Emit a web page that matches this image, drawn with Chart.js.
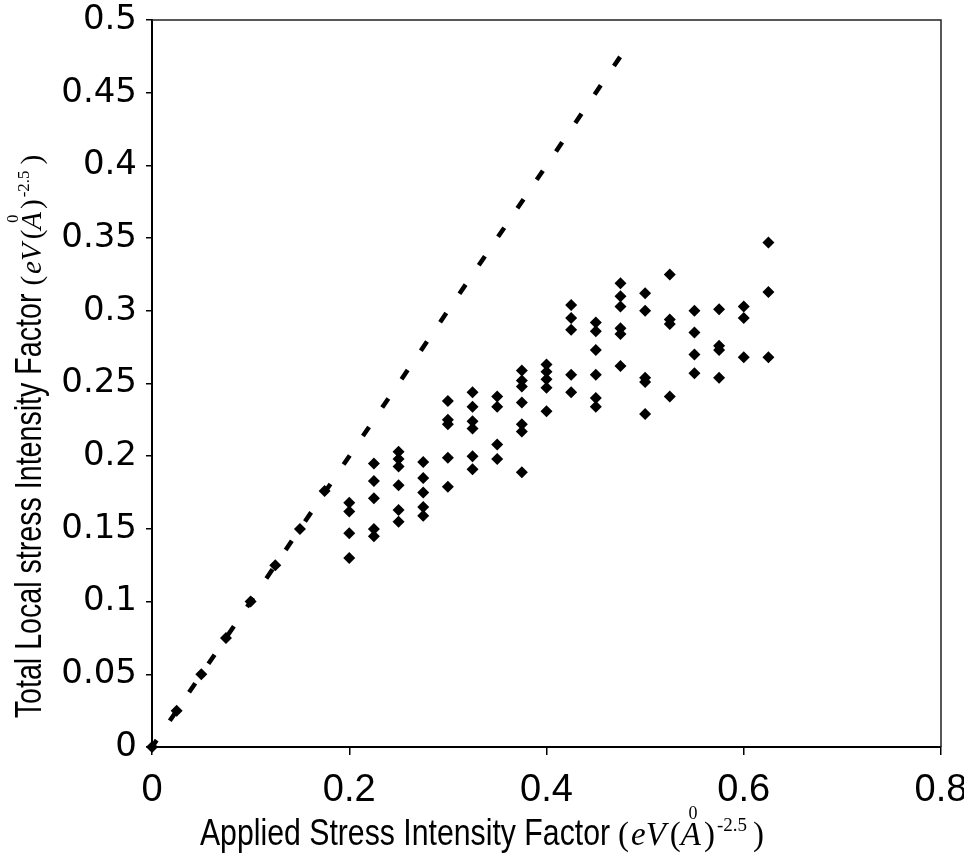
<!DOCTYPE html>
<html>
<head>
<meta charset="utf-8">
<script src="https://cdn.jsdelivr.net/npm/chart.js@4.4.1/dist/chart.umd.min.js"></script>
<style>
  html, body { margin: 0; padding: 0; background: #fff; }
  #wrap { width: 964px; height: 857px; }
</style>
</head>
<body>
<div id="wrap"><canvas id="stressChart"></canvas></div>
<script>
// low loads: local K still follows the applied K
const onLineX = [0, 0.025, 0.05, 0.075, 0.1, 0.125, 0.15, 0.175];
const onLineY = [0, 0.025, 0.05, 0.075, 0.1, 0.125, 0.15, 0.176];

// applied K values where the local K scatters
const appliedX = [0.2, 0.225, 0.25, 0.275, 0.3, 0.325, 0.35, 0.375, 0.4,
                  0.425, 0.45, 0.475, 0.5, 0.525, 0.55, 0.575, 0.6, 0.625];

// total local K samples, one list per applied K
const localY = [
  [0.168, 0.162, 0.147, 0.130],
  [0.195, 0.183, 0.171, 0.150, 0.145],
  [0.203, 0.198, 0.193, 0.180, 0.163, 0.155],
  [0.196, 0.185, 0.175, 0.165, 0.159],
  [0.238, 0.225, 0.222, 0.199, 0.179],
  [0.244, 0.234, 0.224, 0.219, 0.200, 0.191],
  [0.241, 0.234, 0.208, 0.198],
  [0.259, 0.252, 0.248, 0.237, 0.222, 0.217, 0.189],
  [0.263, 0.258, 0.253, 0.247, 0.231],
  [0.304, 0.295, 0.287, 0.256, 0.244],
  [0.292, 0.286, 0.273, 0.256, 0.240, 0.234],
  [0.319, 0.310, 0.303, 0.288, 0.284, 0.262],
  [0.312, 0.300, 0.254, 0.251, 0.229],
  [0.325, 0.294, 0.291, 0.241],
  [0.300, 0.285, 0.270, 0.257],
  [0.301, 0.276, 0.273, 0.254],
  [0.303, 0.295, 0.268],
  [0.347, 0.313, 0.268]
];

// dashed 1:1 line
const refX = [0, 0.48];
const refY = [0, 0.48];

const xTicks = [0, 0.2, 0.4, 0.6, 0.8];
const xTickLabels = ['0', '0.2', '0.4', '0.6', '0.8'];
const yTicks = [0, 0.05, 0.1, 0.15, 0.2, 0.25, 0.3, 0.35, 0.4, 0.45, 0.5];
const yTickLabels = ['0', '0.05', '0.1', '0.15', '0.2', '0.25', '0.3', '0.35', '0.4', '0.45', '0.5'];

const xTitle = 'Applied Stress Intensity Factor';
const yTitle = 'Total Local stress Intensity Factor';

const sans = "'Liberation Sans', Arial, sans-serif";
const serif = "'Liberation Serif', 'Times New Roman', serif";

const points = [];
onLineX.forEach((x, i) => points.push({ x: x, y: onLineY[i] }));
appliedX.forEach((x, i) => localY[i].forEach(y => points.push({ x: x, y: y })));

const refLine = refX.map((x, i) => ({ x: x, y: refY[i] }));

// unit string (eV(A°)^-2.5), drawn piece by piece; returns its width
function drawUnits(ctx, x, y, f, draw) {
  const pieces = [
    { t: '(', font: f + 'px ' + serif },
    { t: 'eV', font: 'italic ' + f + 'px ' + serif, gap: 2 },
    { t: '(', font: f + 'px ' + serif, gap: 4 },
    { t: 'A', font: 'italic ' + f + 'px ' + serif, ring: true },
    { t: ')', font: f + 'px ' + serif, gap: 3 },
    { t: '-2.5', font: Math.round(f * 0.58) + 'px ' + serif, rise: f * 0.42, gap: 2 },
    { t: ')', font: f + 'px ' + serif, gap: 6 }
  ];
  let cx = x;
  pieces.forEach(p => {
    cx += p.gap || 0;
    ctx.font = p.font;
    const w = ctx.measureText(p.t).width;
    if (draw) {
      ctx.fillText(p.t, cx, y - (p.rise || 0));
      if (p.ring) {
        ctx.font = Math.round(f * 0.55) + 'px ' + serif;
        const rw = ctx.measureText('0').width;
        ctx.fillText('0', cx + w / 2 - rw / 2 + 2, y - f * 0.8);
      }
    }
    cx += w;
  });
  return cx - x;
}

// axis title: condensed sans text followed by the units, centred on cx
function drawTitle(ctx, text, cx, baseline, size, squeeze, unitSize) {
  ctx.font = size + 'px ' + sans;
  const wMain = ctx.measureText(text).width * squeeze;
  const wUnit = drawUnits(ctx, 0, 0, unitSize, false);
  const gap = 8;
  const x0 = cx - (wMain + gap + wUnit) / 2;
  ctx.save();
  ctx.translate(x0, baseline);
  ctx.scale(squeeze, 1);
  ctx.font = size + 'px ' + sans;
  ctx.fillText(text, 0, 0);
  ctx.restore();
  drawUnits(ctx, x0 + wMain + gap, baseline, unitSize, true);
}

const axisTitles = {
  id: 'axisTitles',
  afterDraw(chart) {
    const { ctx, chartArea } = chart;
    ctx.save();
    ctx.fillStyle = '#000';
    ctx.textAlign = 'left';
    ctx.textBaseline = 'alphabetic';

    // frame on top and right
    ctx.strokeStyle = '#222';
    ctx.lineWidth = 1.5;
    ctx.beginPath();
    ctx.moveTo(chartArea.left, chartArea.top);
    ctx.lineTo(chartArea.right, chartArea.top);
    ctx.lineTo(chartArea.right, chartArea.bottom);
    ctx.stroke();

    drawTitle(ctx, xTitle, chart.width / 2, 845, 36, 0.84, 33);

    ctx.translate(41, chart.height / 2 + 8);
    ctx.rotate(-Math.PI / 2);
    drawTitle(ctx, yTitle, 0, 0, 36, 0.795, 29);
    ctx.restore();
  }
};

new Chart(document.getElementById('stressChart'), {
  type: 'scatter',
  data: {
    datasets: [
      {
        data: points,
        pointStyle: 'rectRot',
        pointRadius: 6,
        pointHoverRadius: 6,
        backgroundColor: '#000',
        borderColor: '#000',
        borderWidth: 0,
        clip: false,
        order: 0
      },
      {
        data: refLine,
        showLine: true,
        borderColor: '#000',
        borderWidth: 4.5,
        borderDash: [11, 23.4],
        borderDashOffset: 2.7,
        pointRadius: 0,
        fill: false,
        order: 1
      }
    ]
  },
  options: {
    responsive: true,
    maintainAspectRatio: false,
    animation: false,
    layout: { padding: { top: 20, right: 23, left: 0, bottom: 0 } },
    plugins: { legend: { display: false }, tooltip: { enabled: false } },
    scales: {
      x: {
        type: 'linear',
        min: 0,
        max: 0.8,
        afterBuildTicks: s => { s.ticks = xTicks.map(v => ({ value: v })); },
        afterFit: s => { s.height = 110; s.paddingLeft = 0; s.paddingRight = 0; },
        ticks: {
          callback: (v, i) => xTickLabels[i],
          color: '#000',
          font: { family: sans, size: 38 },
          padding: 13,
          maxRotation: 0,
          autoSkip: false
        },
        grid: { drawOnChartArea: false, tickLength: 8, color: '#000', lineWidth: 1.5 },
        border: { color: '#000', width: 2 }
      },
      y: {
        type: 'linear',
        min: 0,
        max: 0.5,
        afterBuildTicks: s => { s.ticks = yTicks.map(v => ({ value: v })); },
        afterFit: s => { s.width = 152; s.paddingTop = 0; s.paddingBottom = 0; },
        ticks: {
          callback: (v, i) => yTickLabels[i],
          color: '#000',
          font: { family: "'DejaVu Sans', sans-serif", size: 34 },
          padding: 9,
          autoSkip: false
        },
        grid: { drawOnChartArea: false, tickLength: 6, color: '#000', lineWidth: 1.5 },
        border: { color: '#000', width: 2 }
      }
    }
  },
  plugins: [axisTitles]
});
</script>
</body>
</html>
